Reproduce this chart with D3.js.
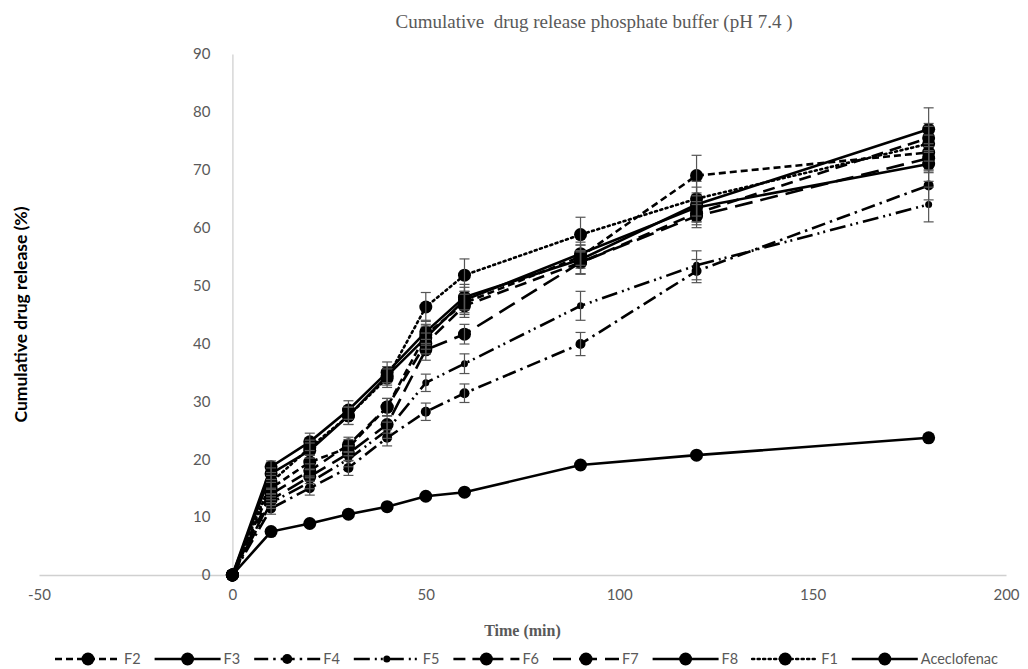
<!DOCTYPE html>
<html>
<head>
<meta charset="utf-8">
<script src="https://cdn.jsdelivr.net/npm/d3@7"></script>
<style>
  body { margin: 0; background: #fff; }
  svg { display: block; }
</style>
</head>
<body>
<svg></svg>
<script>
var screen = {width: 1028, height: 669}

// time points (min)
var times = [0, 10, 20, 30, 40, 50, 60, 90, 120, 180]

// cumulative release (%) per formulation
var F1 = [0, 16.0, 22.0, 27.5, 34.0, 46.3, 51.8, 58.8, 65.0, 74.5]
var F2 = [0, 15.0, 19.5, 22.0, 29.0, 41.5, 47.0, 55.0, 69.0, 73.0]
var F3 = [0, 18.7, 23.0, 28.5, 35.0, 42.0, 48.0, 54.5, 64.0, 77.0]
var F4 = [0, 11.5, 15.0, 18.5, 23.7, 28.2, 31.4, 39.9, 52.5, 67.3]
var F5 = [0, 12.5, 16.0, 20.0, 25.0, 33.2, 36.5, 46.5, 53.5, 64.0]
var F6 = [0, 14.0, 18.0, 22.5, 29.0, 40.0, 46.5, 54.0, 62.5, 75.5]
var F7 = [0, 13.0, 17.0, 21.0, 26.0, 38.9, 41.6, 54.0, 62.0, 72.0]
var F8 = [0, 17.5, 21.5, 27.5, 34.4, 41.0, 47.5, 55.5, 63.5, 71.0]
var Aceclofenac = [0, 7.5, 8.9, 10.5, 11.8, 13.6, 14.3, 19.0, 20.7, 23.7]

// error bar half widths (SD)
var errF1 = [0, 1.2, 1.3, 1.5, 1.6, 2.5, 2.8, 3.0, 3.0, 3.0]
var errF2 = [0, 1.0, 1.2, 1.4, 1.5, 1.8, 2.0, 2.0, 3.5, 3.0]
var errF3 = [0, 1.0, 1.5, 1.6, 1.8, 2.0, 2.2, 2.5, 3.0, 3.7]
var errF4 = [0, 1.0, 1.2, 1.3, 1.4, 1.5, 1.6, 2.0, 2.0, 2.5]
var errF5 = [0, 1.0, 1.1, 1.3, 1.4, 1.5, 1.7, 2.5, 2.5, 3.0]
var errF6 = [0, 1.0, 1.2, 1.3, 1.5, 1.8, 2.0, 2.0, 2.0, 2.5]
var errF7 = [0, 1.0, 1.2, 1.3, 1.5, 1.8, 1.7, 2.0, 2.0, 2.5]
var errF8 = [0, 1.0, 1.3, 1.5, 1.6, 2.0, 2.2, 2.0, 2.5, 3.0]

var legendOrder = ["F2", "F3", "F4", "F5", "F6", "F7", "F8", "F1", "Aceclofenac"]
var yTicks = [0, 10, 20, 30, 40, 50, 60, 70, 80, 90]
var xTicks = [-50, 0, 50, 100, 150, 200]

var series = [
  {name: "F2", values: F2, err: errF2, dash: "7,4", r: 6.5},
  {name: "F3", values: F3, err: errF3, dash: null, r: 6.5},
  {name: "F4", values: F4, err: errF4, dash: "14,5,2.5,5", r: 5},
  {name: "F5", values: F5, err: errF5, dash: "16,5,2,4,2,5", r: 3.5},
  {name: "F6", values: F6, err: errF6, dash: "12,7", r: 6.5},
  {name: "F7", values: F7, err: errF7, dash: "18,8", r: 6.5},
  {name: "F8", values: F8, err: errF8, dash: null, r: 6.5},
  {name: "F1", values: F1, err: errF1, dash: "2,3.5", r: 6.5},
  {name: "Aceclofenac", values: Aceclofenac, err: null, dash: null, r: 6.5}
]

var svg = d3.select("svg")
    .attr("width", screen.width)
    .attr("height", screen.height)

var xScale = d3.scaleLinear()
    .domain([-50, 200])
    .range([39, 1006])

var yScale = d3.scaleLinear()
    .domain([0, 90])
    .range([575, 54])

var axisColor = "#d0d0d0"
var labelColor = "#595959"

// axes (plain hyphen for negatives, like the source)
var fmt = function(d){ return String(d) }
var xAxis = d3.axisBottom(xScale).tickValues(xTicks).tickFormat(fmt).tickSize(0).tickPadding(14)
var yAxis = d3.axisLeft(yScale).tickValues(yTicks).tickFormat(fmt).tickSize(0).tickPadding(22)

var gx = svg.append("g")
    .attr("transform", "translate(0," + yScale(0) + ")")
    .call(xAxis)
var gy = svg.append("g")
    .attr("transform", "translate(" + xScale(0) + ",0)")
    .call(yAxis)

svg.selectAll(".domain").attr("stroke", axisColor).attr("stroke-width", 1.3)
svg.selectAll(".tick text")
    .attr("fill", labelColor)
    .style("font-family", "Lato, 'Open Sans', sans-serif")
    .style("font-size", "15px")

// title and axis titles
svg.append("text")
    .attr("x", 594)
    .attr("y", 28)
    .attr("text-anchor", "middle")
    .attr("fill", labelColor)
    .style("font-family", "'Liberation Serif', serif")
    .style("font-size", "19px")
    .attr("xml:space", "preserve")
    .text("Cumulative  drug release phosphate buffer (pH 7.4 )")

svg.append("text")
    .attr("x", (xScale(-50) + xScale(200)) / 2)
    .attr("y", 636)
    .attr("text-anchor", "middle")
    .attr("fill", labelColor)
    .style("font-family", "'Liberation Serif', serif")
    .style("font-weight", "bold")
    .style("font-size", "16px")
    .text("Time (min)")

svg.append("text")
    .attr("transform", "translate(27," + ((yScale(0) + yScale(90)) / 2) + ") rotate(-90)")
    .attr("text-anchor", "middle")
    .attr("fill", "#000")
    .style("font-family", "Lato, 'Open Sans', sans-serif")
    .style("font-weight", "bold")
    .style("font-size", "17.5px")
    .text("Cumulative drug release (%)")

// lines
var lineGenerator = d3.line()
    .x(function(d, i){ return xScale(times[i]) })
    .y(function(d){ return yScale(d) })

var plot = svg.append("g").attr("id", "graph")

series.forEach(function(s)
{
    plot.append("path")
        .datum(s.values)
        .attr("d", lineGenerator)
        .attr("fill", "none")
        .attr("stroke", "#000")
        .attr("stroke-width", 2.6)
        .attr("stroke-dasharray", s.dash)
        .attr("stroke-linecap", s.name == "F1" ? "round" : "butt")
})

series.forEach(function(s)
{
    plot.append("g")
        .selectAll("circle")
        .data(s.values)
        .enter()
        .append("circle")
        .attr("cx", function(d, i){ return xScale(times[i]) })
        .attr("cy", function(d){ return yScale(d) })
        .attr("r", s.r)
        .attr("fill", "#000")
})

// error bars
series.forEach(function(s)
{
    if (!s.err) return
    var eg = plot.append("g")
        .attr("stroke", "#555")
        .attr("stroke-width", 1.2)
    s.values.forEach(function(v, i)
    {
        if (s.err[i] == 0) return
        var x = xScale(times[i])
        var y1 = yScale(v - s.err[i]), y2 = yScale(v + s.err[i])
        eg.append("line").attr("x1", x).attr("x2", x).attr("y1", y1).attr("y2", y2)
        eg.append("line").attr("x1", x - 5).attr("x2", x + 5).attr("y1", y1).attr("y2", y1)
        eg.append("line").attr("x1", x - 5).attr("x2", x + 5).attr("y1", y2).attr("y2", y2)
    })
})

// legend
var legend = svg.append("g")
    .attr("id", "legend")
    .attr("transform", "translate(55,659)")

var gs = legend.selectAll("g")
    .data(legendOrder.map(function(n){ return series.find(function(s){ return s.name == n }) }))
    .enter()
    .append("g")
    .attr("transform", function(d, i){ return "translate(" + (i * 99.6) + ",0)" })

gs.append("line")
    .attr("x1", 0).attr("x2", 66)
    .attr("stroke", "#000")
    .attr("stroke-width", 2.6)
    .attr("stroke-dasharray", function(d){ return d.dash })
    .attr("stroke-linecap", function(d){ return d.name == "F1" ? "round" : "butt" })

gs.append("circle")
    .attr("cx", 33)
    .attr("r", function(d){ return d.r })
    .attr("fill", "#000")

gs.append("text")
    .attr("x", 69)
    .attr("y", 5)
    .attr("fill", labelColor)
    .style("font-family", "Lato, 'Open Sans', sans-serif")
    .style("font-size", "14.5px")
    .text(function(d){ return d.name })
</script>
</body>
</html>
